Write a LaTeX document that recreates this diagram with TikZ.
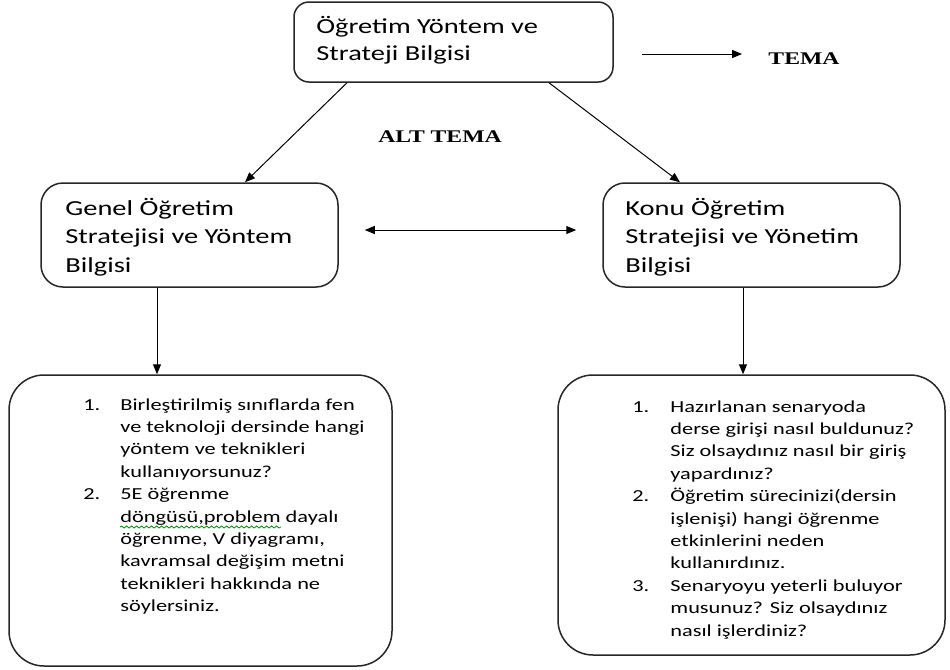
\documentclass[tikz,border=0pt]{standalone}
\usepackage{fontspec}
\setmainfont{Carlito}[FakeStretch=1.33]
\newfontfamily\temafont{Liberation Serif}[FakeStretch=1.33]
\usetikzlibrary{arrows.meta,decorations.pathmorphing}
\begin{document}
\begin{tikzpicture}[x=0.5pt,y=-0.5pt,
  box/.style={draw=black!85, line width=0.75pt, inner sep=0pt},
  bigtxt/.style={anchor=base west, inner sep=0pt, font=\fontsize{10.7}{#1}\selectfont},
  smalltxt/.style={anchor=base west, inner sep=0pt, font=\fontsize{8.4}{11.2}\selectfont},
  tema/.style={inner sep=0pt, font=\temafont\bfseries\fontsize{8.9}{10}\selectfont},
  conn/.style={line width=0.5pt, -{Triangle[length=5pt,width=4pt]}},
  both/.style={line width=0.5pt, {Triangle[length=5pt,width=4pt]}-{Triangle[length=5pt,width=4pt]}},
]
\useasboundingbox (0,0) rectangle (950,670);

% boxes
\node[box, rounded corners=7.5pt, minimum width=159.5pt, minimum height=40pt] (top) at (453.5,42) {};
\node[box, rounded corners=11pt, minimum width=148.5pt, minimum height=52pt] (gen) at (189.5,235) {};
\node[box, rounded corners=11pt, minimum width=148.5pt, minimum height=52pt] (kon) at (751.5,235) {};
\node[box, rounded corners=17.5pt, minimum width=191.5pt, minimum height=145.5pt] (q1) at (200.5,520.5) {};
\node[box, rounded corners=17.5pt, minimum width=193.5pt, minimum height=140pt] (q2) at (751.5,515) {};

% box texts
\node[bigtxt=13.5pt] (toptxt) at (316,33) {\begin{tabular}[t]{@{}l@{}}Öğretim Yöntem ve\\Strateji Bilgisi\end{tabular}};
\node[bigtxt=14.25pt] (gentxt) at (65,215) {\begin{tabular}[t]{@{}l@{}}Genel Öğretim\\Stratejisi ve Yöntem\\Bilgisi\end{tabular}};
\node[bigtxt=14.25pt] (kontxt) at (625,215) {\begin{tabular}[t]{@{}l@{}}Konu Öğretim\\Stratejisi ve Yönetim\\Bilgisi\end{tabular}};

\node[smalltxt] (q1txt) at (83,410) {\begin{tabular}[t]{@{}p{18.5pt}@{}l@{}}
1. & Birleştirilmiş sınıflarda fen\\
   & ve teknoloji dersinde hangi\\
   & yöntem ve teknikleri\\
   & kullanıyorsunuz?\\
2. & 5E öğrenme\\
   & döngüsü,problem dayalı\\
   & öğrenme, V diyagramı,\\
   & kavramsal değişim metni\\
   & teknikleri hakkında ne\\
   & söylersiniz.
\end{tabular}};

\node[smalltxt] (q2txt) at (632,412) {\begin{tabular}[t]{@{}p{19pt}@{}l@{}}
1. & Hazırlanan senaryoda\\
   & derse girişi nasıl buldunuz?\\
   & Siz olsaydınız nasıl bir giriş\\
   & yapardınız?\\
2. & Öğretim sürecinizi(dersin\\
   & işlenişi) hangi öğrenme\\
   & etkinlerini neden\\
   & kullanırdınız.\\
3. & Senaryoyu yeterli buluyor\\
   & musunuz? Siz olsaydınız\\
   & nasıl işlerdiniz?
\end{tabular}};

% spelling squiggle under "döngüsü,problem"
\draw[green!55!black, line width=0.4pt, decorate,
      decoration={snake, amplitude=0.5pt, segment length=2.5pt}] (120,527) -- (281,527);

% theme labels
\node[tema] (alttema) at (440,136.5) {ALT TEMA};
\node[tema] (tema) at (804,59) {TEMA};
\coordinate (temastart) at (642,54);
\draw[conn, shorten >=13pt] (temastart) -- (tema.west |- temastart);

% connectors
\draw[conn] ([xshift=-53.25pt]top.south) -- ([xshift=27.75pt]gen.north);
\draw[conn] ([xshift=47.75pt]top.south) -- ([xshift=-35.75pt]kon.north);
\draw[both, shorten <=13pt, shorten >=13pt] ([yshift=2.5pt]gen.east) -- ([yshift=2.5pt]kon.west);
\coordinate (gs) at ([xshift=-16.25pt]gen.south);
\coordinate (ks) at ([xshift=-4.25pt]kon.south);
\draw[conn] (gs) -- (gs |- q1.north);
\draw[conn] (ks) -- (ks |- q2.north);
\end{tikzpicture}
\end{document}
